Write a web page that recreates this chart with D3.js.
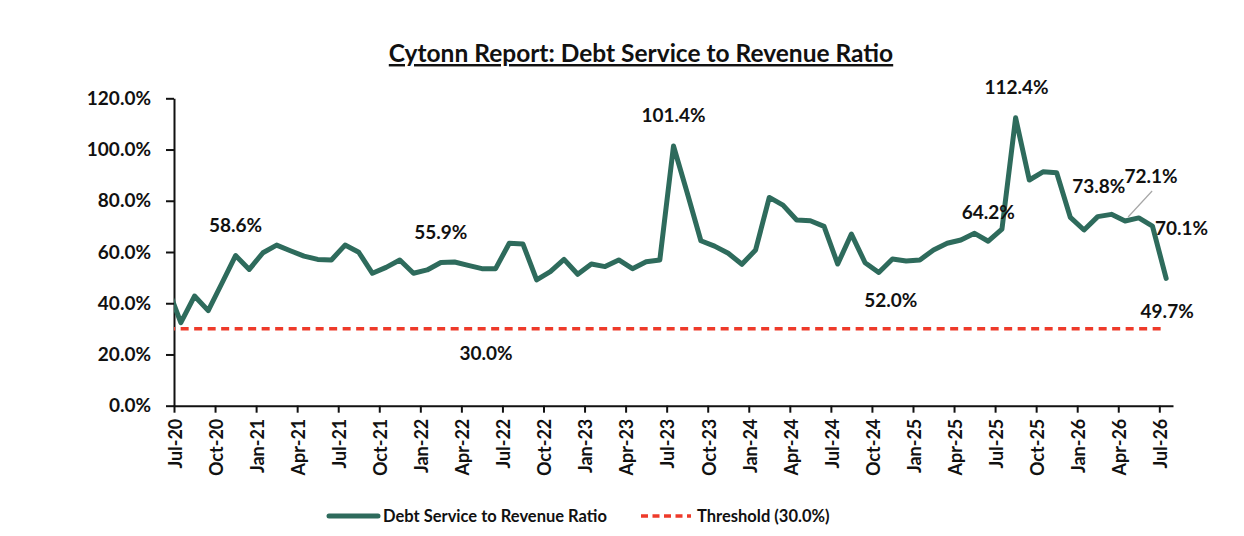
<!DOCTYPE html>
<html>
<head>
<meta charset="utf-8">
<script src="https://cdn.jsdelivr.net/npm/d3@7"></script>
<style>
  body { margin: 0; background: #fff; }
  text { font-family: Lato, "Open Sans", sans-serif; font-weight: 700; fill: #111; }
</style>
</head>
<body>
<div id="chart"></div>
<script>
// ---- Data ----
// first value is Jun-20, only partly visible at the left edge of the plot
const firstMonth = new Date(2020, 5, 1);
const ratio = [
    46.5,
    32.4, 42.8, 37.1, 47.8, 58.6, 53.2, 59.7, 62.7, 60.5, 58.4, 57.1, 56.9,
    62.7, 59.9, 51.7, 54.0, 56.9, 51.7, 53.0, 55.9, 56.1, 54.8, 53.5, 53.5,
    63.4, 63.1, 49.1, 52.3, 57.1, 51.3, 55.3, 54.3, 56.9, 53.5, 56.2, 56.9,
    101.4, 83.1, 64.4, 62.3, 59.5, 55.2, 60.8, 81.3, 78.3, 72.5, 72.2, 70.0,
    55.3, 67.0, 55.8, 52.0, 57.3, 56.5, 56.9, 60.8, 63.4, 64.7, 67.3, 64.2,
    68.9, 112.4, 88.1, 91.3, 90.9, 73.5, 68.6, 73.8, 74.7, 72.1, 73.3, 70.1,
    49.7
];
const threshold = 30;

const tickLabels = [
    "Jul-20", "Oct-20", "Jan-21", "Apr-21", "Jul-21", "Oct-21", "Jan-22", "Apr-22",
    "Jul-22", "Oct-22", "Jan-23", "Apr-23", "Jul-23", "Oct-23", "Jan-24", "Apr-24",
    "Jul-24", "Oct-24", "Jan-25", "Apr-25", "Jul-25", "Oct-25", "Jan-26", "Apr-26",
    "Jul-26"
];
const yTicks = [0, 20, 40, 60, 80, 100, 120];

// data labels: month of the point, and where the text sits relative to it
const labelled = ["2020-11", "2022-02", "2023-07", "2024-10", "2025-06",
                  "2025-08", "2026-02", "2026-04", "2026-06", "2026-07"];
const labelOffsets = {
    "2020-11": [0, -30], "2022-02": [0, -30], "2023-07": [0, -31],
    "2024-10": [12, 28], "2025-06": [0, -29], "2025-08": [1, -30],
    "2026-02": [1, -30], "2026-04": [26, -45], "2026-06": [29, 2],
    "2026-07": [1, 33]
};

const fmtKey = d3.timeFormat("%Y-%m");
const data = ratio.map((v, i) => ({
    date: d3.timeMonth.offset(firstMonth, i),
    value: v
}));

// ---- Layout ----
const W = 1244, H = 536;
const plot = { left: 174, right: 1173, top: 98.3, bottom: 405.7 };
const green = "#2e6b5c";
const red = "#ee3a2a";

const svg = d3.select("#chart").append("svg")
    .attr("width", W)
    .attr("height", H);

// months since Jul-20; each point sits mid-month
const axisStart = new Date(2020, 6, 1);
const monthIndex = d => d3.timeMonth.count(axisStart, d) + 0.5;

const x = d3.scaleLinear()
    .domain([0, 73])
    .range([plot.left, plot.right]);

const y = d3.scaleLinear()
    .domain([0, 120])
    .range([plot.bottom, plot.top]);

svg.append("clipPath")
    .attr("id", "plot-clip")
    .append("rect")
    .attr("x", plot.left)
    .attr("y", 0)
    .attr("width", plot.right - plot.left)
    .attr("height", H);

// ---- Title ----
svg.append("text")
    .attr("x", 641)
    .attr("y", 62)
    .attr("text-anchor", "middle")
    .style("font-size", "24.5px")
    .style("text-decoration", "underline")
    .text("Cytonn Report: Debt Service to Revenue Ratio");

// ---- Axes ----
const yAxis = svg.append("g")
    .attr("transform", `translate(${plot.left},0)`)
    .call(d3.axisLeft(y)
        .tickValues(yTicks)
        .tickFormat(d => d.toFixed(1) + "%")
        .tickSize(8)
        .tickSizeOuter(0)
        .tickPadding(15));
yAxis.selectAll("path, line").attr("stroke", "#111").attr("stroke-width", 2);
yAxis.selectAll("text").style("font-size", "19px").attr("fill", "#111");

const xAxis = svg.append("g")
    .attr("transform", `translate(0,${plot.bottom})`)
    .call(d3.axisBottom(x)
        .tickValues(d3.range(0, 73, 3))
        .tickFormat(i => tickLabels[i / 3])
        .tickSize(7)
        .tickSizeOuter(0));
xAxis.selectAll("path, line").attr("stroke", "#111").attr("stroke-width", 2);
xAxis.selectAll("text")
    .style("font-size", "18px")
    .attr("fill", "#111")
    .attr("text-anchor", "end")
    .attr("transform", "rotate(-90)")
    .attr("x", -13)
    .attr("y", 1)
    .attr("dy", "0.35em");

// ---- Lines ----
const lines = svg.append("g").attr("clip-path", "url(#plot-clip)");

const firstX = monthIndex(data[0].date);
const lastX = monthIndex(data[data.length - 1].date);

lines.append("line")
    .attr("x1", x(firstX))
    .attr("x2", x(lastX))
    .attr("y1", y(threshold))
    .attr("y2", y(threshold))
    .attr("stroke", red)
    .attr("stroke-width", 3.5)
    .attr("stroke-dasharray", "8,5.5");

const line = d3.line()
    .x(d => x(monthIndex(d.date)))
    .y(d => y(d.value));

lines.append("path")
    .datum(data)
    .attr("d", line)
    .attr("fill", "none")
    .attr("stroke", green)
    .attr("stroke-width", 5)
    .attr("stroke-linejoin", "round")
    .attr("stroke-linecap", "round");

// ---- Data labels ----
const labels = svg.append("g");
const labelData = data.filter(d => labelled.includes(fmtKey(d.date)));

labels.selectAll("text.point-label")
    .data(labelData)
    .enter()
    .append("text")
    .attr("class", "point-label")
    .attr("x", d => x(monthIndex(d.date)) + labelOffsets[fmtKey(d.date)][0])
    .attr("y", d => y(d.value) + labelOffsets[fmtKey(d.date)][1])
    .attr("dy", "0.35em")
    .attr("text-anchor", "middle")
    .style("font-size", "19px")
    .text(d => d.value.toFixed(1) + "%");

// leader line for the Apr-26 label
const apr26 = labelData.find(d => fmtKey(d.date) === "2026-04");
labels.append("line")
    .attr("x1", x(monthIndex(apr26.date)) + 27)
    .attr("y1", y(apr26.value) - 30)
    .attr("x2", x(monthIndex(apr26.date)) + 3)
    .attr("y2", y(apr26.value) - 4)
    .attr("stroke", "#a6a6a6")
    .attr("stroke-width", 1.2);

// threshold label
labels.append("text")
    .attr("x", x(22.8))
    .attr("y", y(threshold) + 24)
    .attr("dy", "0.35em")
    .attr("text-anchor", "middle")
    .style("font-size", "19px")
    .text(threshold.toFixed(1) + "%");

// ---- Legend ----
const legend = svg.append("g").attr("transform", "translate(0,516)");

legend.append("line")
    .attr("x1", 329).attr("x2", 378)
    .attr("stroke", green)
    .attr("stroke-width", 5)
    .attr("stroke-linecap", "round");

legend.append("text")
    .attr("x", 383)
    .attr("dy", "0.35em")
    .style("font-size", "16.5px")
    .text("Debt Service to Revenue Ratio");

legend.append("line")
    .attr("x1", 641).attr("x2", 691)
    .attr("stroke", red)
    .attr("stroke-width", 3.5)
    .attr("stroke-dasharray", "7,4.5");

legend.append("text")
    .attr("x", 697)
    .attr("dy", "0.35em")
    .style("font-size", "16.5px")
    .text("Threshold (30.0%)");
</script>
</body>
</html>
